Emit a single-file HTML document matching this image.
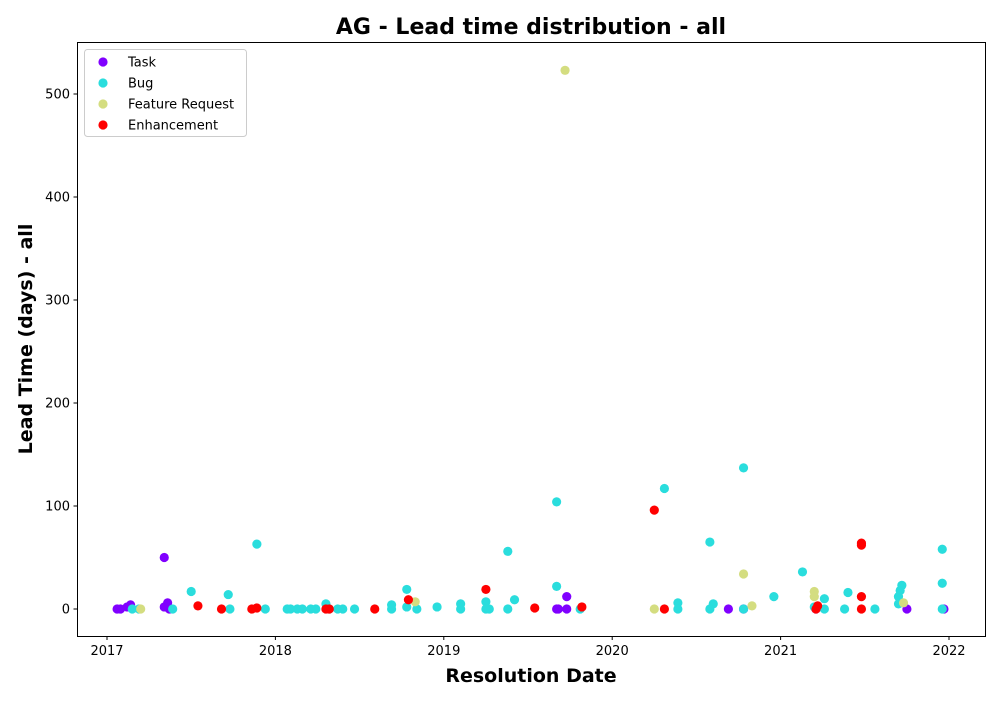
<!DOCTYPE html>
<html><head><meta charset="utf-8"><style>
body{margin:0;background:#fff;font-family:"Liberation Sans","DejaVu Sans",sans-serif}
</style></head><body>
<svg id="chart" width="1000" height="700" xmlns="http://www.w3.org/2000/svg" font-family="DejaVu Sans, Liberation Sans, sans-serif">
<rect width="1000" height="700" fill="#fff"/>
<text x="531" y="34" text-anchor="middle" font-size="22" font-weight="bold">AG - Lead time distribution - all</text>
<text x="531" y="682" text-anchor="middle" font-size="19" font-weight="bold">Resolution Date</text>
<text transform="translate(32,339) rotate(-90)" text-anchor="middle" font-size="19" font-weight="bold">Lead Time (days) - all</text>
<g id="marks"></g>
<g id="axes"></g>
<rect x="77.5" y="42.5" width="908" height="594" fill="none" stroke="#000" stroke-width="1"/>
<g>
<rect x="84.5" y="49.5" width="162" height="87" rx="3" fill="#fff" fill-opacity="0.8" stroke="#ccc"/>
<g id="legend-items"></g>
</g>
</svg>
<script>
const xTickLabels=["2017","2018","2019","2020","2021","2022"];
const yTickLabels=[0,100,200,300,400,500];
const seriesNames=["Task","Bug","Feature Request","Enhancement"];
const seriesColors=["#8000ff","#2adddd","#d4dd80","#ff0000"];
const taskX=[2017.06,2017.08,2017.12,2017.14,2017.34,2017.34,2017.36,2017.37,2019.67,2019.68,2019.73,2019.73,2020.69,2020.78,2021.21,2021.75,2021.97];
const taskY=[0,0,2,4,50,2,6,0,0,0,12,0,0,0,0,0,0];
const bugX=[2017.19,2017.15,2017.39,2017.5,2017.72,2017.73,2017.89,2017.94,2018.07,2018.09,2018.13,2018.16,2018.21,2018.24,2018.3,2018.32,2018.37,2018.4,2018.47,2018.69,2018.69,2018.78,2018.78,2018.84,2018.96,2019.1,2019.1,2019.25,2019.25,2019.27,2019.38,2019.42,2019.38,2019.67,2019.67,2019.81,2020.31,2020.39,2020.39,2020.58,2020.6,2020.58,2020.78,2020.78,2020.96,2021.13,2021.2,2021.26,2021.26,2021.4,2021.38,2021.56,2021.7,2021.7,2021.71,2021.72,2021.96,2021.96,2021.96];
const bugY=[0,0,0,17,14,0,63,0,0,0,0,0,0,0,5,0,0,0,0,0,4,19,2,0,2,0,5,7,0,0,0,9,56,104,22,0,117,6,0,65,5,0,137,0,12,36,2,10,0,16,0,0,5,12,18,23,58,25,0];
const frX=[2017.2,2018.83,2019.72,2020.25,2020.78,2020.83,2021.2,2021.2,2021.73];
const frY=[0,7,523,0,34,3,17,12,6];
const enhX=[2017.54,2017.68,2017.86,2017.89,2018.3,2018.32,2018.59,2018.79,2019.25,2019.54,2019.82,2020.25,2020.31,2021.21,2021.22,2021.48,2021.48,2021.48,2021.48];
const enhY=[3,0,0,1,0,0,0,9,19,1,2,96,0,0,3,62,64,12,0];
const NS="http://www.w3.org/2000/svg";
function xs(v){return 107+(v-2017)*168.4;}
function ys(v){return 609-v*1.03;}
const axes=document.getElementById('axes');
xTickLabels.forEach(t=>{
  const x=xs(+t);
  const l=document.createElementNS(NS,'line');
  
  
  l.setAttribute('x1',x);l.setAttribute('x2',x);l.setAttribute('y1',636.5);l.setAttribute('y2',640);l.setAttribute('stroke','#000');
  axes.appendChild(l);
  const tx=document.createElementNS(NS,'text');
  
  
  tx.setAttribute('x',x);tx.setAttribute('y',655);tx.setAttribute('text-anchor','middle');tx.setAttribute('font-size','13');
  tx.textContent=t;axes.appendChild(tx);
});
yTickLabels.forEach(t=>{
  const y=ys(t);
  const l=document.createElementNS(NS,'line');
  
  
  l.setAttribute('x1',73.5);l.setAttribute('x2',77.5);l.setAttribute('y1',y);l.setAttribute('y2',y);l.setAttribute('stroke','#000');
  axes.appendChild(l);
  const tx=document.createElementNS(NS,'text');
  
  
  tx.setAttribute('x',70);tx.setAttribute('y',y+4.5);tx.setAttribute('text-anchor','end');tx.setAttribute('font-size','13');
  tx.textContent=t;axes.appendChild(tx);
});
const marks=document.getElementById('marks');
const all=[[taskX,taskY],[bugX,bugY],[frX,frY],[enhX,enhY]];
all.forEach((s,i)=>{
  s[0].forEach((xv,j)=>{
    const c=document.createElementNS(NS,'circle');
    
    
    c.setAttribute('cx',xs(xv));c.setAttribute('cy',ys(s[1][j]));c.setAttribute('r',4.6);c.setAttribute('fill',seriesColors[i]);
    marks.appendChild(c);
  });
});
const li=document.getElementById('legend-items');
seriesNames.forEach((n,i)=>{
  const y=62+i*21;
  const c=document.createElementNS(NS,'circle');
  
  
  c.setAttribute('cx',103);c.setAttribute('cy',y);c.setAttribute('r',4.6);c.setAttribute('fill',seriesColors[i]);
  li.appendChild(c);
  const t=document.createElementNS(NS,'text');
  
  
  t.setAttribute('x',128);t.setAttribute('y',y+4.5);t.setAttribute('font-size','13');
  t.textContent=n;li.appendChild(t);
});
</script>
</body></html>
